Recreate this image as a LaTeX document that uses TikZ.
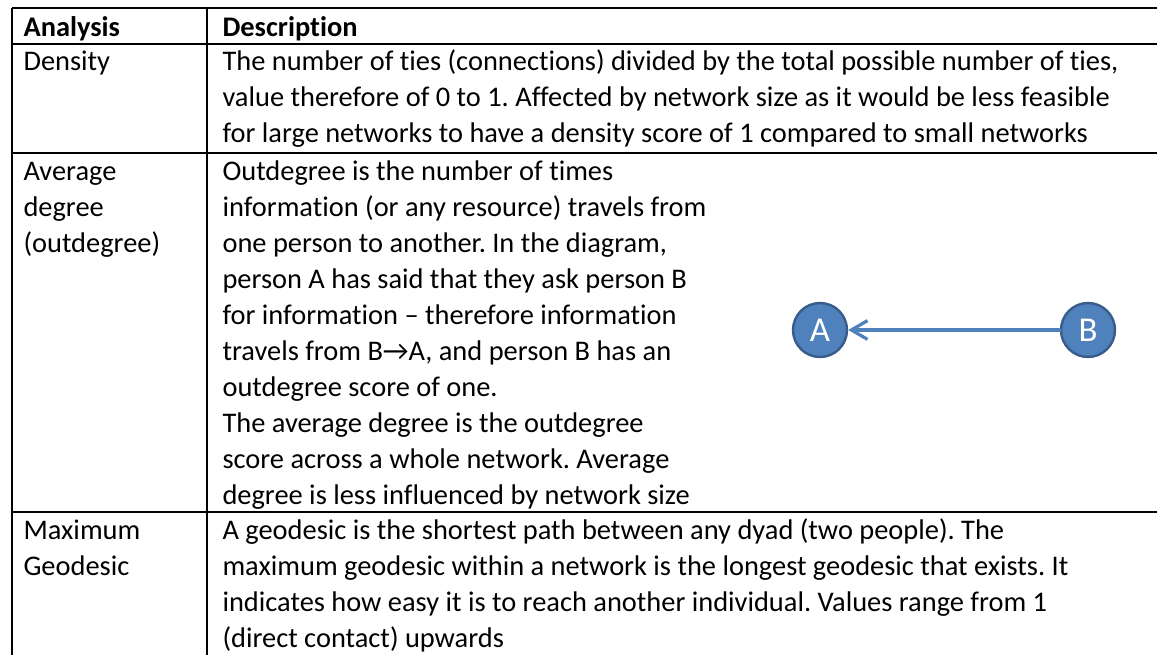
\documentclass[tikz,border=0pt]{standalone}
\usepackage{fontspec}
\setmainfont[Ligatures=NoCommon]{Carlito}
\usepackage{tikz}
\usetikzlibrary{arrows.meta}
\definecolor{nodeblue}{HTML}{4F81BD}
\definecolor{nodeedge}{HTML}{385D8A}
\frenchspacing
\begin{document}
\begin{tikzpicture}[x=0.373pt,y=-0.373pt,
    cell/.style={anchor=north west,inner sep=0pt,align=left,
      font=\fontsize{10.6}{13.43}\selectfont},
    rule/.style={line width=0.85pt},
    person/.style={circle,fill=nodeblue,draw=nodeedge,line width=0.9pt,
      minimum size=54*0.373pt,inner sep=0pt,text=white,font=\fontsize{13}{15}\selectfont}]
    \useasboundingbox (0,0) rectangle (1157,655);
    % table rules
    \foreach \y in {8,44,153,512} {%
        \draw[rule] (12,\y) -- (1157,\y);
    }
    \foreach \x in {12,207} {%
        \draw[rule] (\x,8) -- (\x,655);
    }
    % header
    \node[cell] (hanalysis) at (23,11) {\strut\textbf{Analysis}};
    \node[cell] (hdesc) at (222,11) {\strut\textbf{Description}};
    % density
    \node[cell] (density) at (23,45) {\strut Density};
    \node[cell] (densitytxt) at (222,45) {\strut The number of ties (connections) divided by the total possible number of ties,\\
        value therefore of 0 to 1. Affected by network size as it would be less feasible\\
        for large networks to have a density score of 1 compared to small networks};
    % average degree
    \node[cell] (avgdeg) at (23,155) {\strut Average\\degree\\(outdegree)};
    \node[cell] (avgdegtxt) at (222,155) {\strut Outdegree is the number of times\\
        information (or any resource) travels from\\
        one person to another. In the diagram,\\
        person A has said that they ask person B\\
        for information -- therefore information\\
        travels from B→A, and person B has an\\
        outdegree score of one.\\
        The average degree is the outdegree\\
        score across a whole network. Average\\
        degree is less influenced by network size};
    % maximum geodesic
    \node[cell] (maxgeo) at (23,514) {\strut Maximum\\Geodesic};
    \node[cell] (maxgeotxt) at (222,514) {\strut A geodesic is the shortest path between any dyad (two people). The\\
        maximum geodesic within a network is the longest geodesic that exists. It\\
        indicates how easy it is to reach another individual. Values range from 1\\
        (direct contact) upwards};
    % diagram
    \node[person] (pa) at (820,330) {A};
    \node[person] (pb) at (1088,330) {B};
    \draw[line width=1.2pt,nodeblue,line cap=round,-{Straight Barb[length=6pt,width=7pt,line width=1.2pt]}] (pb) -- (pa);
\end{tikzpicture}
\end{document}
